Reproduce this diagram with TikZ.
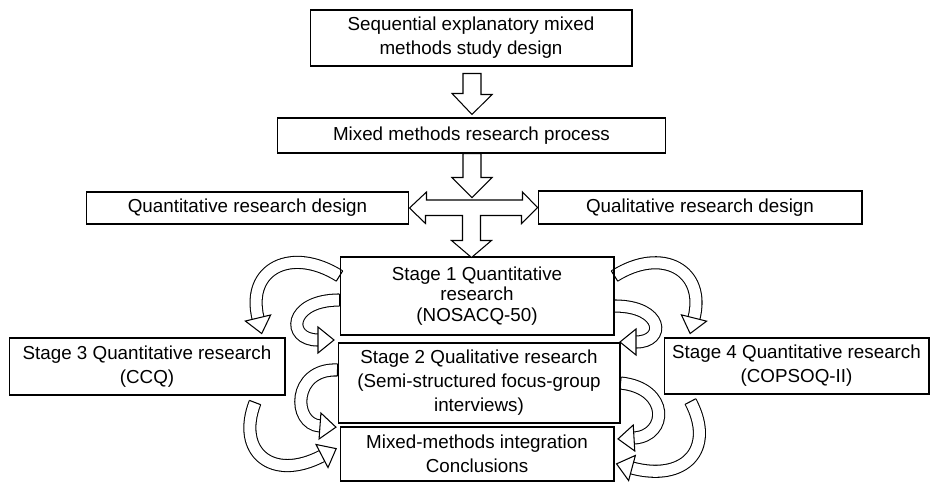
\documentclass[tikz,border=0pt]{standalone}
\usepackage{fontspec}
\setmainfont{Liberation Sans}
\usetikzlibrary{calc,backgrounds}
\newcommand\boxfs{\fontsize{10.7pt}{13.6pt}\selectfont}
\newcommand\boxfstight{\fontsize{10.7pt}{11.6pt}\selectfont}
\tikzset{
  box/.style={draw, line width=0.6pt, inner sep=0pt, align=center, font=\boxfs},
  blk/.style={draw, fill=white, line width=0.6pt, line join=miter},
  chead/.pic={\draw[fill=white, line width=0.6pt, line join=miter] (0,-13) -- (16,0) -- (0,13) -- cycle;},
  ctail/.pic={\draw[line width=0.6pt] (0,-6) -- (0,6);},
}
\newcommand\carrow[1]{%
  \draw[line width=0.262cm] #1;
  \draw[white, line width=0.22cm] #1;
  \path #1 pic[pos=1, sloped, allow upside down] {chead};
  \path #1 pic[pos=0, sloped, allow upside down] {ctail};
}
\begin{document}
\begin{tikzpicture}[x=0.02cm, y=-0.02cm]
\useasboundingbox (0,0) rectangle (930,483);
% boxes
\node[box, minimum width=6.44cm, minimum height=1.12cm] (b1) at (471,38) {Sequential explanatory mixed\\methods study design};
\node[box, minimum width=7.78cm, minimum height=0.70cm] (b2) at (471.5,135.5) {Mixed methods research process};
\node[box, minimum width=6.46cm, minimum height=0.64cm] (bq) at (247.5,208) {Quantitative research design};
\node[box, minimum width=6.48cm, minimum height=0.66cm] (bl) at (700,207.5) {Qualitative research design};
\node[box, font=\boxfstight, minimum width=5.48cm, minimum height=1.56cm] (s1) at (477,296) {Stage 1 Quantitative\\research\\(NOSACQ-50)};
\node[box, minimum width=5.64cm, minimum height=1.60cm] (s2) at (479,383) {Stage 2 Qualitative research\\(Semi-structured focus-group\\interviews)};
\node[box, minimum width=5.48cm, minimum height=1.08cm] (mx) at (477,454) {Mixed-methods integration\\Conclusions};
\node[box, minimum width=5.52cm, minimum height=1.14cm] (s3) at (147,366.5) {Stage 3 Quantitative research\\(CCQ)};
\node[box, minimum width=5.30cm, minimum height=1.12cm] (s4) at (796.5,366) {Stage 4 Quantitative research\\(COPSOQ-II)};
% straight block arrows
\draw[blk] ($(b1.south)+(-8,7)$) -- ++(18,0) -- ++(0,21) -- ++(11,0) -- ($(b2.north)+(0.5,-3)$) -- ++(-20,-21) -- ++(11,0) -- cycle;
\draw[blk] ($(b2.south)+(-8.5,0)$) -- ++(18,0) -- ++(0,24) -- ++(11,0) -- ++(-20,20) -- ++(-20,-20) -- ++(11,0) -- cycle;
\draw[blk] (bq.east) -- ++(17,-16) -- ++(0,8) -- ++(96,0) -- ++(0,-8) -- (bl.west) -- ++(-16,16) -- ++(0,-8) -- ++(-41,0) -- ++(0,25) -- ++(11,0) -- ++(-20,17) -- ++(-20,-17) -- ++(11,0) -- ++(0,-25) -- ++(-37,0) -- ++(0,8) -- cycle;
% curved block arrows
\begin{scope}[on background layer]
\carrow{($(s1.west)+(0,-20)$) .. controls (292,246) and (246,268) .. (258,318)}
\carrow{($(s1.west)+(0,4)$) .. controls (288,300) and (286,340) .. (318,340)}
\carrow{($(s2.west)+(0,-13)$) .. controls (292,368) and (292,424) .. (320,426)}
\carrow{($(s3.south)+(108,7)$) .. controls (236,452) and (272,482) .. (322,456)}
\carrow{($(s1.east)+(0,-20)$) .. controls (662,246) and (706,270) .. (694,318)}
\carrow{($(s1.east)+(0,10)$) .. controls (664,306) and (666,342) .. (636,342)}
\carrow{($(s2.east)+(0,0)$) .. controls (670,388) and (668,436) .. (634,438)}
\carrow{($(s4.south)+(-106,7)$) .. controls (716,450) and (684,482) .. (632,468)}
\end{scope}
\end{tikzpicture}
\end{document}
